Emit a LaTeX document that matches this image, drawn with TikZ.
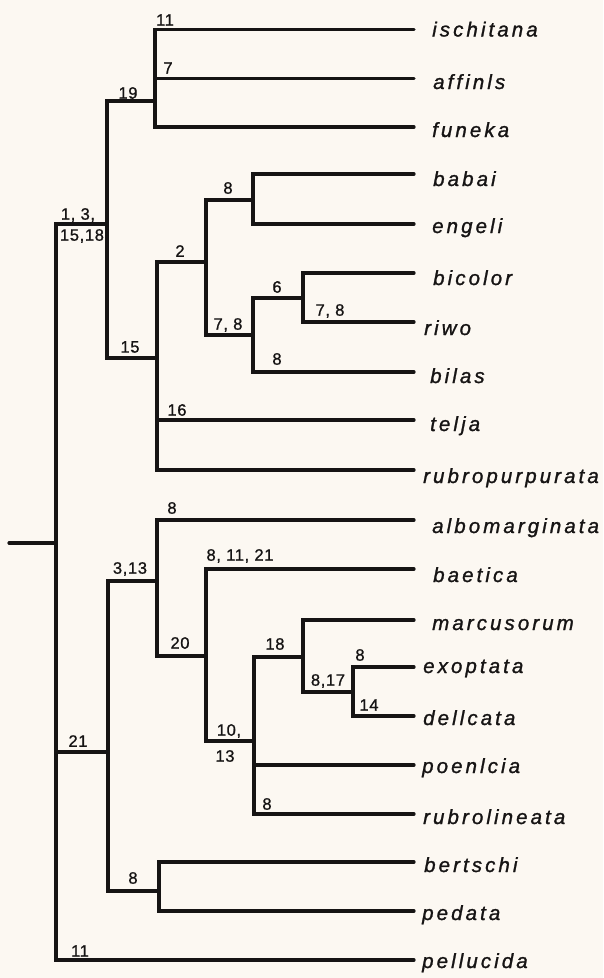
\documentclass[tikz,border=0pt]{standalone}
\usepackage{fontspec}
\setmainfont{Liberation Sans}
\newfontfamily\taxfont[LetterSpace=15,FakeBold=1.2]{Liberation Sans}
\newfontfamily\numfont[LetterSpace=4,FakeBold=1]{Liberation Sans}
\definecolor{paper}{RGB}{252,248,242}
\definecolor{ink}{RGB}{22,20,20}
\begin{document}
\begin{tikzpicture}[x=1pt,y=-1pt,
  branch/.style={draw=ink,line width=3.2pt,line cap=round,line join=miter},
  taxon/.style={anchor=base west,inner sep=0pt,text=ink,
    font=\taxfont\itshape\fontsize{20.5}{20.5}\selectfont},
  apo/.style={inner sep=0pt,text=ink,font=\numfont\fontsize{16.5}{17}\selectfont}]
\fill[paper] (0,0) rectangle (603,978);
\useasboundingbox (0,0) rectangle (603,978);

% tips (right ends of the terminal branches)
\coordinate (tIsc) at (414,29.5);
\coordinate (tAff) at (414,78.5);
\coordinate (tFun) at (414,127);
\coordinate (tBab) at (414,174);
\coordinate (tEng) at (414,224);
\coordinate (tBic) at (414,273);
\coordinate (tRiw) at (414,322);
\coordinate (tBil) at (414,372);
\coordinate (tTel) at (414,420);
\coordinate (tRpu) at (414,470);
\coordinate (tAlb) at (414,520);
\coordinate (tBae) at (414,569);
\coordinate (tMar) at (414,620);
\coordinate (tExo) at (414,667);
\coordinate (tDel) at (414,716);
\coordinate (tPoe) at (414,765);
\coordinate (tRbl) at (414,814);
\coordinate (tBer) at (414,862);
\coordinate (tPed) at (414,911);
\coordinate (tPel) at (414,960);

% internal nodes (where each clade meets its stem)
\coordinate (cA) at (155,101);
\coordinate (cB) at (253,200);
\coordinate (cC) at (303,298);
\coordinate (cD) at (253,335);
\coordinate (cE) at (206,262);
\coordinate (cF) at (157,358);
\coordinate (cG) at (107,224);
\coordinate (cR) at (56,543);
\coordinate (stub) at (9,543);
\coordinate (cH) at (353,692);
\coordinate (cI) at (303,657);
\coordinate (cJ) at (254,741);
\coordinate (cK) at (206,656);
\coordinate (cL) at (157,581);
\coordinate (cM) at (159,891);
\coordinate (cN) at (108,752);

% upper clade
\draw[branch] (tIsc) -| (cA) |- (tFun);
\draw[branch] (cA |- tAff) -- (tAff);
\draw[branch] (tBab) -| (cB) |- (tEng);
\draw[branch] (tBic) -| (cC) |- (tRiw);
\draw[branch] (cC) -| (cD) |- (tBil);
\draw[branch] (cB) -| (cE) |- (cD);
\draw[branch] (cE) -| (cF) |- (tRpu);
\draw[branch] (cF |- tTel) -- (tTel);
\draw[branch] (cA) -| (cG) |- (cF);

% root
\draw[branch] (stub) -- (cR);
\draw[branch] (cG) -| (cR) |- (tPel);
\draw[branch] (cR |- cN) -- (cN);

% lower clade
\draw[branch] (tExo) -| (cH) |- (tDel);
\draw[branch] (tMar) -| (cI) |- (cH);
\draw[branch] (cI) -| (cJ) |- (tRbl);
\draw[branch] (cJ |- tPoe) -- (tPoe);
\draw[branch] (tBae) -| (cK) |- (cJ);
\draw[branch] (tAlb) -| (cL) |- (cK);
\draw[branch] (tBer) -| (cM) |- (tPed);
\draw[branch] (cL) -| (cN) |- (cM);

% taxon names
\node[taxon] (nIsc) at (432,36.5) {ischitana};
\node[taxon] (nAff) at (433,89) {affinls};
\node[taxon] (nFun) at (432,137) {funeka};
\node[taxon] (nBab) at (433,186) {babai};
\node[taxon] (nEng) at (432,233) {engeli};
\node[taxon] (nBic) at (433,285) {bicolor};
\node[taxon] (nRiw) at (424,335) {riwo};
\node[taxon] (nBil) at (430,383) {bilas};
\node[taxon] (nTel) at (430,431) {telja};
\node[taxon] (nRpu) at (423,483) {rubropurpurata};
\node[taxon] (nAlb) at (432,533) {albomarginata};
\node[taxon] (nBae) at (433,582) {baetica};
\node[taxon] (nMar) at (432,630) {marcusorum};
\node[taxon] (nExo) at (423,673) {exoptata};
\node[taxon] (nDel) at (423,725) {dellcata};
\node[taxon] (nPoe) at (422,773) {poenlcia};
\node[taxon] (nRbl) at (423,824) {rubrolineata};
\node[taxon] (nBer) at (424,872) {bertschi};
\node[taxon] (nPed) at (422,920) {pedata};
\node[taxon] (nPel) at (422,968) {pellucida};

% character-state numbers on the branches
\node[apo] (a1)  at (165,20)  {11};
\node[apo] (a2)  at (168,68)  {7};
\node[apo] (a3)  at (128,93)  {19};
\node[apo] (a4)  at (78,215)  {1, 3,};
\node[apo] (a5)  at (82,236)  {15,18};
\node[apo] (a6)  at (228,188) {8};
\node[apo] (a7)  at (180,251) {2};
\node[apo] (a8)  at (277,287) {6};
\node[apo] (a9)  at (330,311) {7, 8};
\node[apo] (a10) at (228,325) {7, 8};
\node[apo] (a11) at (277,359) {8};
\node[apo] (a12) at (130,347) {15};
\node[apo] (a13) at (177,410) {16};
\node[apo] (a14) at (172,508) {8};
\node[apo] (a15) at (130,569) {3,13};
\node[apo] (a16) at (240,556) {8, 11, 21};
\node[apo] (a17) at (180,643) {20};
\node[apo] (a18) at (275,644) {18};
\node[apo] (a19) at (328,681) {8,17};
\node[apo] (a20) at (360,655) {8};
\node[apo] (a21) at (369,705) {14};
\node[apo] (a22) at (229,731) {10,};
\node[apo] (a23) at (225,756) {13};
\node[apo] (a24) at (267,804) {8};
\node[apo] (a25) at (78,741)  {21};
\node[apo] (a26) at (133,878) {8};
\node[apo] (a27) at (80,951)  {11};
\end{tikzpicture}
\end{document}
